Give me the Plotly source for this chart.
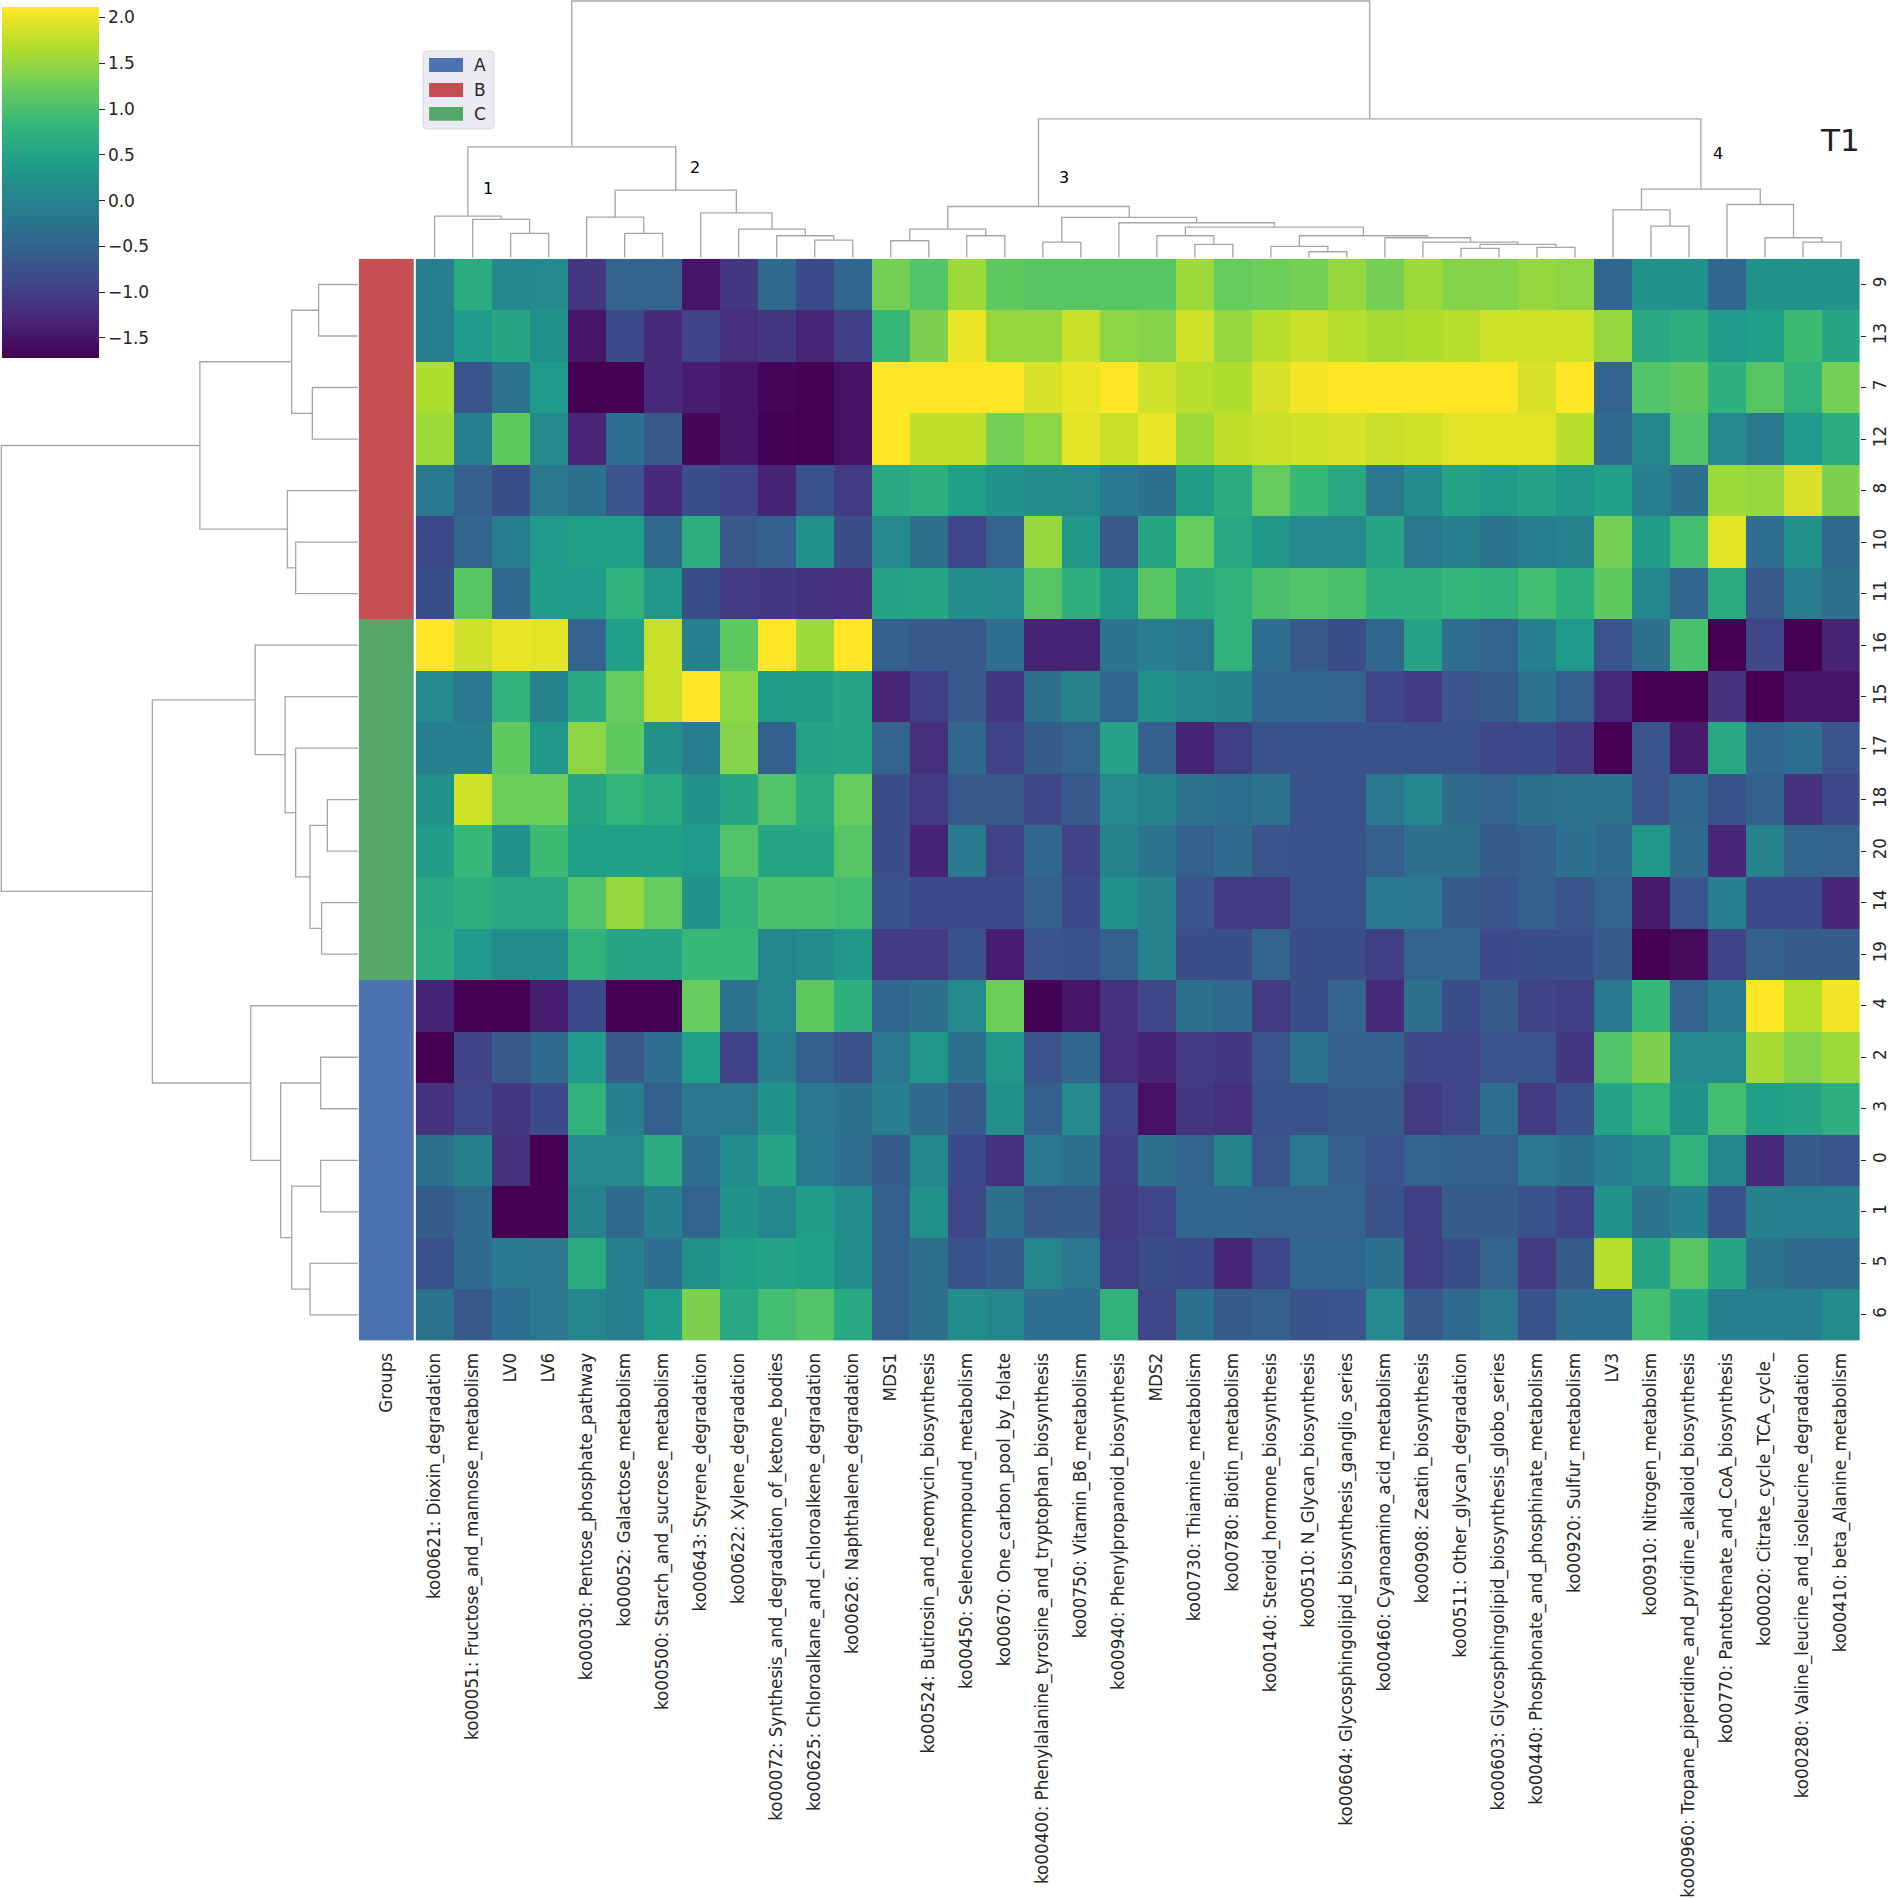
import plotly.graph_objects as go

W = 1890
H = 1898

columns = [
    "ko00621: Dioxin_degradation",
    "ko00051: Fructose_and_mannose_metabolism",
    "LV0",
    "LV6",
    "ko00030: Pentose_phosphate_pathway",
    "ko00052: Galactose_metabolism",
    "ko00500: Starch_and_sucrose_metabolism",
    "ko00643: Styrene_degradation",
    "ko00622: Xylene_degradation",
    "ko00072: Synthesis_and_degradation_of_ketone_bodies",
    "ko00625: Chloroalkane_and_chloroalkene_degradation",
    "ko00626: Naphthalene_degradation",
    "MDS1",
    "ko00524: Butirosin_and_neomycin_biosynthesis",
    "ko00450: Selenocompound_metabolism",
    "ko00670: One_carbon_pool_by_folate",
    "ko00400: Phenylalanine_tyrosine_and_tryptophan_biosynthesis",
    "ko00750: Vitamin_B6_metabolism",
    "ko00940: Phenylpropanoid_biosynthesis",
    "MDS2",
    "ko00730: Thiamine_metabolism",
    "ko00780: Biotin_metabolism",
    "ko00140: Steroid_hormone_biosynthesis",
    "ko00510: N_Glycan_biosynthesis",
    "ko00604: Glycosphingolipid_biosynthesis_ganglio_series",
    "ko00460: Cyanoamino_acid_metabolism",
    "ko00908: Zeatin_biosynthesis",
    "ko00511: Other_glycan_degradation",
    "ko00603: Glycosphingolipid_biosynthesis_globo_series",
    "ko00440: Phosphonate_and_phosphinate_metabolism",
    "ko00920: Sulfur_metabolism",
    "LV3",
    "ko00910: Nitrogen_metabolism",
    "ko00960: Tropane_piperidine_and_pyridine_alkaloid_biosynthesis",
    "ko00770: Pantothenate_and_CoA_biosynthesis",
    "ko00020: Citrate_cycle_TCA_cycle_",
    "ko00280: Valine_leucine_and_isoleucine_degradation",
    "ko00410: beta_Alanine_metabolism",
]
rows = ["9", "13", "7", "12", "8", "10", "11", "16", "15", "17", "18",
        "20", "14", "19", "4", "2", "3", "0", "1", "5", "6"]
row_groups = ["B"] * 7 + ["C"] * 7 + ["A"] * 7
group_names = ["A", "B", "C"]
group_colors = ["#4c72b0", "#c44e52", "#55a868"]

# heatmap values, one list per row
r9 = [-0.1, 0.65, 0.05, 0.1, -1.1, -0.5, -0.5, -1.5, -1.1, -0.4, -0.85, -0.45, 1.3, 1.05, 1.55, 1.15, 1.1, 1.1, 1.1,
      1.1, 1.55, 1.2, 1.25, 1.3, 1.5, 1.3, 1.55, 1.4, 1.4, 1.5, 1.45, -0.45, 0.25, 0.2, -0.45, 0.25, 0.2, 0.25]
r13 = [-0.1, 0.35, 0.55, 0.2, -1.5, -0.85, -1.25, -0.95, -1.2, -1.1, -1.3, -1.0, 0.85, 1.35, 2.0, 1.5, 1.5, 1.8, 1.45,
       1.4, 1.85, 1.5, 1.7, 1.8, 1.7, 1.6, 1.65, 1.7, 1.85, 1.85, 1.85, 1.5, 0.6, 0.7, 0.35, 0.45, 0.9, 0.55]
r7 = [1.65, -0.7, -0.25, 0.35, -1.72, -1.72, -1.25, -1.4, -1.5, -1.65, -1.72, -1.55, 2.115, 2.115, 2.115, 2.115, 1.9,
      2.0, 2.115, 1.85, 1.7, 1.65, 1.9, 2.05, 2.115, 2.115, 2.115, 2.115, 2.115, 1.9, 2.115, -0.5, 1.05, 1.15, 0.7,
      1.1, 0.75, 1.3]
r12 = [1.55, -0.05, 1.15, 0.1, -1.3, -0.35, -0.65, -1.65, -1.5, -1.7, -1.72, -1.55, 2.115, 1.75, 1.75, 1.3, 1.45, 1.95,
       1.8, 2.0, 1.55, 1.75, 1.8, 1.85, 1.9, 1.8, 1.85, 1.95, 1.95, 1.95, 1.7, -0.4, 0.05, 1.05, 0.1, -0.15, 0.35, 0.65]
r8 = [-0.15, -0.55, -0.8, -0.2, -0.3, -0.7, -1.25, -0.8, -0.95, -1.35, -0.75, -1.05, 0.6, 0.7, 0.45, 0.25, 0.15, 0.1,
      -0.15, -0.3, 0.4, 0.65, 1.2, 0.85, 0.6, -0.2, 0.15, 0.5, 0.4, 0.5, 0.3, 0.45, -0.05, -0.3, 1.55, 1.5, 1.9, 1.35]
r10 = [-0.85, -0.5, -0.1, 0.35, 0.45, 0.45, -0.4, 0.7, -0.65, -0.55, 0.2, -0.8, 0.1, -0.3, -0.9, -0.5, 1.5, 0.3, -0.65,
       0.55, 1.2, 0.6, 0.3, 0.1, 0.1, 0.55, -0.2, -0.05, -0.25, -0.1, 0.0, 1.3, 0.4, 0.95, 1.95, -0.35, 0.25, -0.4]
r11 = [-0.8, 1.1, -0.4, 0.4, 0.35, 0.75, 0.3, -0.8, -1.05, -1.1, -1.15, -1.2, 0.5, 0.55, 0.15, 0.1, 1.1, 0.7, 0.3,
       1.1, 0.6, 0.75, 1.0, 1.05, 1.0, 0.7, 0.7, 0.8, 0.75, 0.95, 0.7, 1.15, 0.05, -0.45, 0.65, -0.65, -0.1, -0.3]
r16 = [2.115, 1.85, 2.0, 1.95, -0.5, 0.45, 1.8, -0.05, 1.15, 2.115, 1.55, 2.115, -0.55, -0.65, -0.65, -0.35, -1.35,
       -1.35, -0.25, -0.1, -0.2, 0.75, -0.35, -0.65, -0.8, -0.45, 0.5, -0.35, -0.5, -0.05, 0.35, -0.7, -0.3, 1.0,
       -1.72, -0.9, -1.72, -1.35]
r15 = [0.1, -0.2, 0.75, 0.0, 0.6, 1.2, 1.8, 2.115, 1.45, 0.4, 0.4, 0.55, -1.3, -1.0, -0.65, -1.1, -0.3, 0.0, -0.45,
       0.2, 0.05, 0.0, -0.45, -0.45, -0.5, -0.9, -1.05, -0.7, -0.6, -0.25, -0.55, -1.25, -1.72, -1.72, -1.15, -1.72,
       -1.5, -1.5]
r17 = [-0.05, -0.05, 1.15, 0.3, 1.45, 1.15, 0.2, -0.1, 1.4, -0.55, 0.5, 0.55, -0.5, -1.2, -0.45, -0.95, -0.6, -0.5,
       0.5, -0.55, -1.35, -1.0, -0.75, -0.75, -0.75, -0.75, -0.75, -0.75, -0.9, -0.85, -1.05, -1.72, -0.7, -1.45, 0.6,
       -0.45, -0.35, -0.7]
r18 = [0.2, 1.85, 1.25, 1.25, 0.55, 0.8, 0.65, 0.25, 0.55, 1.05, 0.65, 1.2, -0.8, -1.05, -0.65, -0.65, -0.9, -0.65,
       0.1, 0.0, -0.25, -0.35, -0.25, -0.75, -0.75, -0.2, 0.05, -0.4, -0.5, -0.3, -0.25, -0.25, -0.7, -0.45, -0.75,
       -0.55, -1.15, -0.9]
r20 = [0.4, 0.85, 0.2, 0.9, 0.45, 0.45, 0.45, 0.35, 1.05, 0.55, 0.55, 1.1, -0.8, -1.35, -0.15, -0.95, -0.45, -0.95,
       0.0, -0.25, -0.55, -0.4, -0.7, -0.75, -0.75, -0.55, -0.3, -0.3, -0.6, -0.55, -0.3, -0.4, 0.3, -0.4, -1.3, 0.0,
       -0.45, -0.5]
r14 = [0.6, 0.7, 0.6, 0.6, 1.05, 1.5, 1.2, 0.25, 0.75, 1.0, 1.0, 0.95, -0.75, -0.85, -0.85, -0.85, -0.55, -0.85,
       0.2, 0.0, -0.7, -1.05, -1.05, -0.75, -0.75, -0.15, -0.2, -0.6, -0.7, -0.55, -0.7, -0.5, -1.45, -0.7, -0.05,
       -0.85, -0.85, -1.3]
r19 = [0.65, 0.35, 0.15, 0.15, 0.75, 0.55, 0.55, 0.85, 0.85, 0.05, 0.15, 0.3, -1.05, -1.05, -0.75, -1.4, -0.7, -0.75,
       -0.55, 0.0, -0.8, -0.8, -0.5, -0.8, -0.8, -1.0, -0.5, -0.5, -0.85, -0.8, -0.8, -0.6, -1.72, -1.6, -0.95, -0.55,
       -0.6, -0.6]
r4 = [-1.35, -1.72, -1.72, -1.4, -0.85, -1.72, -1.72, 1.2, -0.25, 0.05, 1.15, 0.7, -0.45, -0.3, 0.1, 1.25, -1.7, -1.5,
      -1.15, -0.9, -0.3, -0.4, -1.05, -0.8, -0.5, -1.25, -0.3, -0.8, -0.6, -0.95, -1.0, -0.15, 0.85, -0.5, -0.15,
      2.115, 1.7, 2.05]
r2 = [-1.72, -0.95, -0.65, -0.4, 0.35, -0.65, -0.35, 0.45, -0.95, -0.05, -0.55, -0.75, -0.2, 0.3, -0.3, 0.3, -0.7,
      -0.45, -1.2, -1.35, -1.05, -1.1, -0.7, -0.25, -0.55, -0.55, -0.9, -0.9, -0.7, -0.7, -1.1, 1.05, 1.35, 0.1, 0.1,
      1.6, 1.4, 1.55]
r3 = [-1.15, -0.9, -1.1, -0.85, 0.75, -0.05, -0.55, -0.2, -0.2, 0.25, -0.2, -0.3, -0.1, -0.4, -0.65, 0.2, -0.55, 0.1,
      -0.9, -1.55, -1.1, -1.2, -0.75, -0.75, -0.6, -0.6, -1.05, -0.9, -0.35, -1.05, -0.75, 0.5, 0.8, 0.25, 0.95, 0.45,
      0.5, 0.7]
r0 = [-0.3, -0.05, -1.15, -1.72, 0.1, 0.1, 0.65, -0.35, 0.15, 0.55, -0.15, -0.35, -0.6, 0.05, -0.85, -1.15, -0.2, -0.3,
      -1.0, -0.3, -0.5, 0.0, -0.7, -0.2, -0.55, -0.7, -0.5, -0.55, -0.55, -0.2, -0.3, -0.1, 0.05, 0.75, 0.05, -1.25,
      -0.6, -0.7]
r1 = [-0.6, -0.4, -1.72, -1.72, 0.0, -0.4, -0.05, -0.5, 0.25, 0.05, 0.4, 0.15, -0.55, 0.2, -0.9, -0.3, -0.65, -0.6,
      -1.05, -0.9, -0.45, -0.45, -0.5, -0.5, -0.5, -0.75, -1.0, -0.6, -0.6, -0.75, -0.95, 0.25, -0.25, -0.05, -0.75,
      -0.05, -0.1, -0.05]
r5 = [-0.75, -0.4, -0.15, -0.2, 0.65, -0.05, -0.35, 0.2, 0.45, 0.5, 0.45, 0.15, -0.55, -0.3, -0.75, -0.6, 0.05, -0.2,
      -1.0, -0.8, -0.85, -1.3, -0.9, -0.45, -0.45, -0.3, -1.0, -0.8, -0.5, -1.05, -0.6, 1.7, 0.55, 1.1, 0.55, -0.25,
      -0.4, -0.4]
r6 = [-0.25, -0.65, -0.35, -0.2, 0.05, -0.1, 0.4, 1.35, 0.6, 0.95, 1.05, 0.6, -0.55, -0.3, 0.15, 0.05, -0.35, -0.35,
      0.75, -0.9, -0.3, -0.6, -0.55, -0.75, -0.7, 0.1, -0.65, -0.4, -0.2, -0.75, -0.35, -0.35, 0.95, 0.5, -0.05, -0.05,
      -0.1, 0.15]
values = [r9, r13, r7, r12, r8, r10, r11, r16, r15, r17, r18, r20, r14, r19, r4, r2, r3, r0, r1, r5, r6]

z_min = -1.72
z_max = 2.115
cbar_ticks = [-1.5, -1.0, -0.5, 0.0, 0.5, 1.0, 1.5, 2.0]

# dendrograms as nested (height, left, right), ints are leaf positions
col_c1 = (41.7, 0, (38.3, 1, (24.3, 2, 3)))
col_c2 = (67.7, (40.7, 4, (24.3, 5, 6)), (45, 7, (28.7, 8, (22, 9, (17.7, 10, 11)))))
col_a = (28.7, (17, 12, 13), (22, 14, 15))
col_d = (20, 25, (15.7, 26, (13.3, (9.3, 27, 28), (10.3, 29, 30))))
col_e = (22, (11.3, 22, (6, 23, 24)), col_d)
col_f = (35, 18, (30.7, (22, 19, (13.3, 20, 21)), col_e))
col_c3 = (51.3, col_a, (40.3, (15.7, 16, 17), col_f))
col_c4 = (68.7, (48, 31, (31.7, 32, 33)), (53.3, 34, (20, 35, (15.7, 36, 37))))
col_tree = (257, (111, col_c1, col_c2), (139, col_c3, col_c4))

row_red = (158.7, (66.7, (39.7, 0, 1), (46, 2, 3)), (71, 4, (62.7, 5, 6)))
row_green = (103.3, 7, (73.3, 8, (62.7, 9, (48.3, (31, 10, 11), (36.7, 12, 13)))))
row_blue = (107.7, 14, (77.7, (37.7, 15, 16), (66.7, (37.7, 17, 18), (48.3, 19, 20))))
row_tree = (357.7, row_red, (206.3, row_green, row_blue))

cluster_labels = ["1", "2", "3", "4"]
cluster_label_px = [(489, 189), (696, 168), (1066, 178), (1722, 154)]


def px(x):
    return x / W


def py(y):
    return 1 - y / H


def links(node, pos_out, height_out):
    # returns position of the node, appends the U shape of every merge
    if isinstance(node, int):
        return node + 0.5, 0
    h, left, right = node
    p1, h1 = links(left, pos_out, height_out)
    p2, h2 = links(right, pos_out, height_out)
    pos_out += [p1, p1, p2, p2, None]
    height_out += [h1, h, h, h2, None]
    return (p1 + p2) / 2, h


heat_left, heat_right = 416.5, 1864
heat_top, heat_bottom = 259, 1342
text_col = "#262626"
font = "DejaVu Sans"

fig = go.Figure()
fig.add_trace(go.Heatmap(
    z=values, x=columns, y=rows, colorscale="Viridis", zmin=z_min, zmax=z_max,
    xaxis="x", yaxis="y",
    colorbar=dict(
        x=px(2), xanchor="left", xpad=0,
        y=py(7), yanchor="top", ypad=0,
        len=351, lenmode="pixels", thickness=97, thicknessmode="pixels",
        outlinewidth=0, ticks="outside", ticklen=6, tickwidth=1.2, tickcolor=text_col,
        tickvals=cbar_ticks, tickformat=".1f",
        tickfont=dict(family=font, size=17, color=text_col),
    ),
))
fig.add_trace(go.Heatmap(
    z=[[group_names.index(g)] for g in row_groups], x=["Groups"], y=rows,
    colorscale=[[0, group_colors[0]], [0.5, group_colors[1]], [1, group_colors[2]]],
    zmin=0, zmax=2, showscale=False, xaxis="x2", yaxis="y",
))

top_x, top_h = [], []
links(col_tree, top_x, top_h)
fig.add_trace(go.Scatter(x=top_x, y=top_h, mode="lines", xaxis="x3", yaxis="y3", showlegend=False,
                         line=dict(color="#a6a6a6", width=1.3)))
left_y, left_h = [], []
links(row_tree, left_y, left_h)
fig.add_trace(go.Scatter(x=left_h, y=left_y, mode="lines", xaxis="x4", yaxis="y4", showlegend=False,
                         line=dict(color="#a6a6a6", width=1.3)))

hidden = dict(visible=False, showgrid=False, zeroline=False)
tick_font = dict(family=font, size=16.75, color=text_col)
fig.update_layout(
    width=W, height=H, margin=dict(l=0, r=0, t=0, b=0, pad=0),
    paper_bgcolor="white", plot_bgcolor="white", showlegend=False,
    font=dict(family=font, color=text_col),
    xaxis=dict(domain=[px(heat_left), px(heat_right)], anchor="y", side="bottom", tickmode="linear", dtick=1,
               tickangle=-90, ticks="", ticklabelstandoff=8, tickfont=tick_font, showgrid=False, zeroline=False),
    xaxis2=dict(domain=[px(359.5), px(415)], anchor="y", side="bottom", tickangle=-90, ticks="",
                ticklabelstandoff=8, tickfont=tick_font, showgrid=False, zeroline=False),
    yaxis=dict(domain=[py(heat_bottom), py(heat_top)], anchor="x", side="right", autorange="reversed",
               tickmode="linear", dtick=1, tickangle=-90, ticks="outside", ticklen=5, tickcolor=text_col,
               tickfont=tick_font, showgrid=False, zeroline=False),
    xaxis3=dict(domain=[px(heat_left), px(heat_right)], range=[0, len(columns)], anchor="y3", **hidden),
    yaxis3=dict(domain=[py(258), 1], range=[0, 258], anchor="x3", **hidden),
    xaxis4=dict(domain=[0, px(359)], range=[359, 0], anchor="y4", **hidden),
    yaxis4=dict(domain=[py(heat_bottom), py(heat_top)], range=[len(rows), 0], anchor="x4", **hidden),
)

# legend box
x0, x1, y0, y1 = px(424), px(495), py(129), py(51)
fig.add_shape(type="path", xref="paper", yref="paper", fillcolor="#eaeaf2", line=dict(color="#d8d8e0", width=1),
              path=f"M {px(428)} {y1} L {px(491)} {y1} Q {x1} {y1} {x1} {py(55)} L {x1} {py(125)} "
                   f"Q {x1} {y0} {px(491)} {y0} L {px(428)} {y0} Q {x0} {y0} {x0} {py(125)} "
                   f"L {x0} {py(55)} Q {x0} {y1} {px(428)} {y1} Z")
for name, color, top in zip(group_names, group_colors, [58, 83, 107]):
    fig.add_shape(type="rect", xref="paper", yref="paper", x0=px(430), x1=px(464), y0=py(top + 14), y1=py(top),
                  fillcolor=color, line=dict(color=color, width=0))
    fig.add_annotation(text=name, xref="paper", yref="paper", x=px(481), y=py(top + 7), showarrow=False,
                       xanchor="center", yanchor="middle", font=dict(family=font, size=17, color=text_col))

for label, (lx, ly) in zip(cluster_labels, cluster_label_px):
    fig.add_annotation(text=label, xref="paper", yref="paper", x=px(lx), y=py(ly), showarrow=False,
                       xanchor="center", yanchor="middle", font=dict(family=font, size=16, color="black"))
fig.add_annotation(text="T1", xref="paper", yref="paper", x=px(1844), y=py(140), showarrow=False,
                   xanchor="center", yanchor="middle", font=dict(family=font, size=31, color="#222222"))

fig.write_html("out.html", config={"displayModeBar": False}, post_script="document.body.style.margin='0';")
